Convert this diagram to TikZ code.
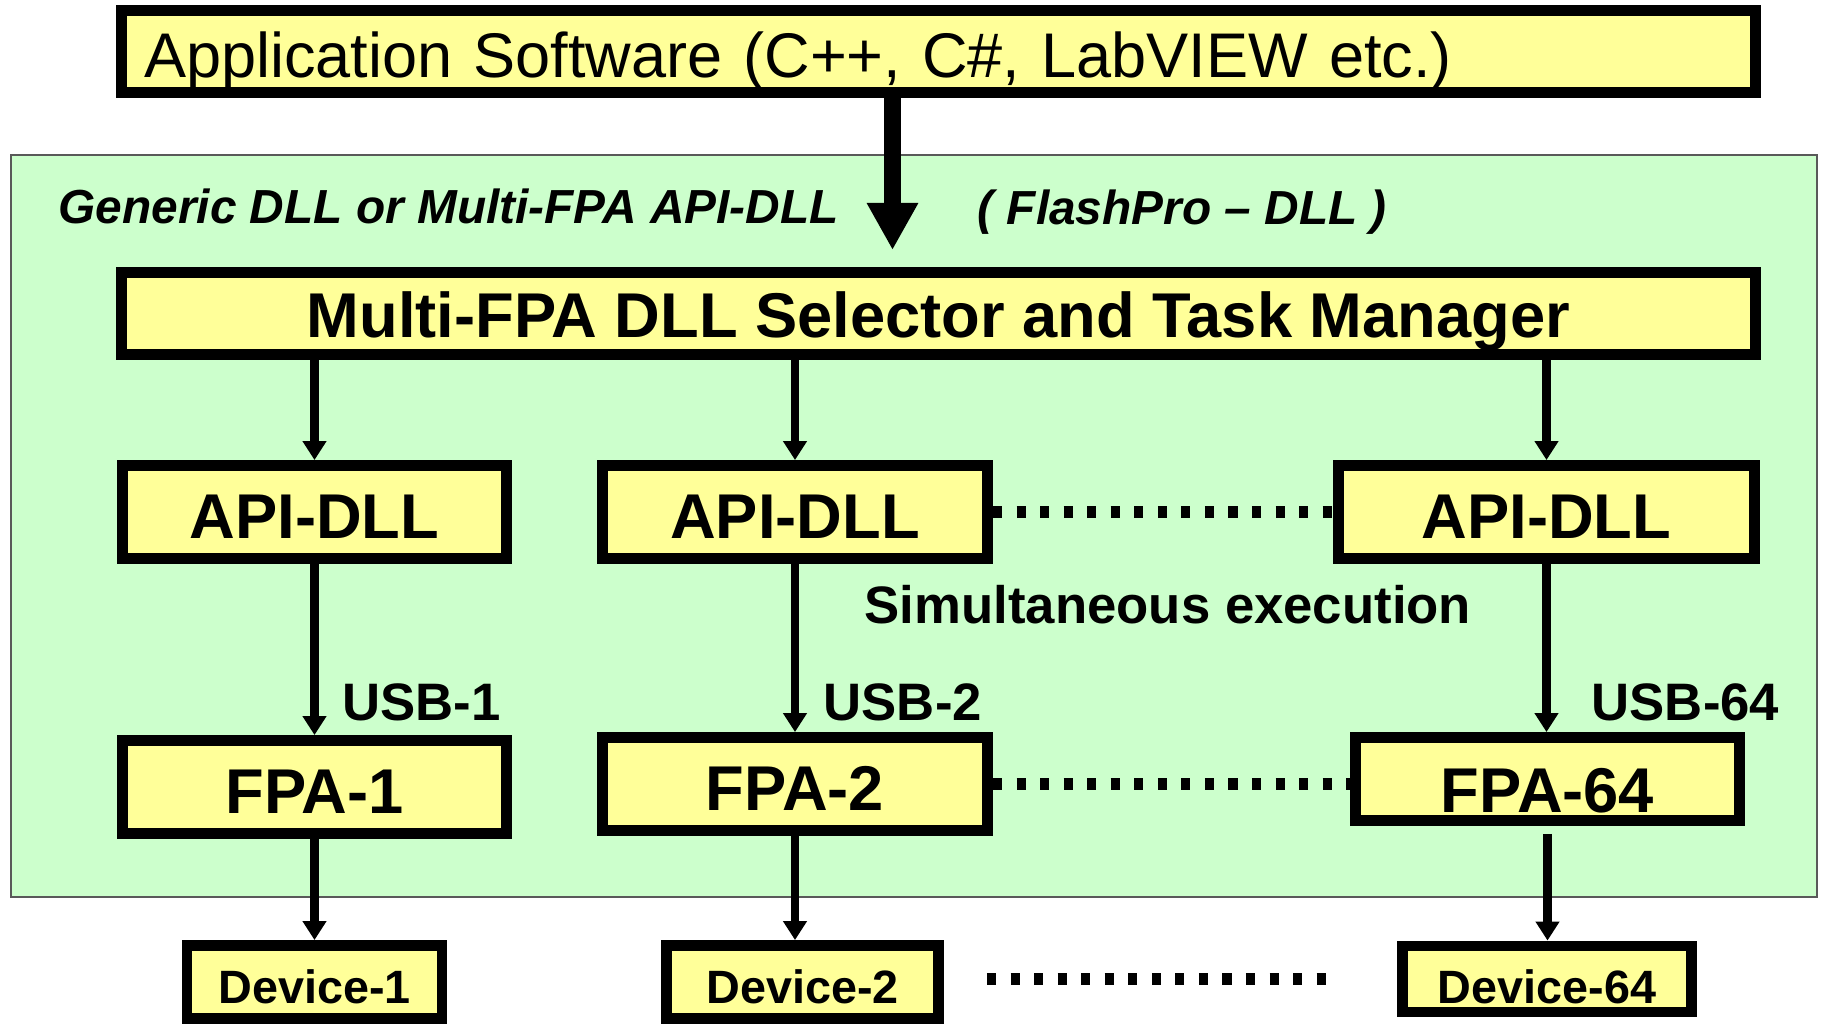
\documentclass[tikz,border=0pt]{standalone}
\usepackage{fontspec}
\setmainfont{Liberation Sans}
\usetikzlibrary{arrows.meta, positioning}

\definecolor{boxyellow}{RGB}{255,255,153}
\definecolor{dllgreen}{RGB}{204,255,204}

\begin{document}
\begin{tikzpicture}[node distance=2cm]

        % Define styles for each type of node
        \tikzstyle{panel} = [rectangle, minimum width=18.06cm, minimum height=7.42cm, draw=black!65, line width=0.6pt, fill=dllgreen]
        \tikzstyle{layer} = [rectangle, minimum width=16.34cm, minimum height=0.82cm, inner sep=0pt, draw=black, line width=3.1pt, fill=boxyellow, font=\fontsize{18}{20}\selectfont\bfseries, text height=0.48cm, text depth=0cm]
        \tikzstyle{unit} = [rectangle, minimum width=3.84cm, minimum height=0.93cm, inner sep=0pt, draw=black, line width=3.1pt, fill=boxyellow, font=\fontsize{18}{20}\selectfont\bfseries, text height=0.52cm, text depth=0cm]
        \tikzstyle{device} = [rectangle, minimum height=0.73cm, inner sep=0pt, draw=black, line width=3.1pt, fill=boxyellow, font=\fontsize{13.3}{15}\selectfont\bfseries, text height=0.42cm, text depth=0cm]
        \tikzstyle{tag} = [anchor=base west, inner sep=0pt, font=\fontsize{15}{17}\selectfont\bfseries]
        \tikzstyle{caption} = [anchor=base west, inner sep=0pt, font=\fontsize{13.6}{15}\selectfont\bfseries\itshape]

        % Define arrow styles
        \tikzstyle{arrow} = [line width=2.3pt, -{Triangle[length=5.4pt, width=6.5pt]}]
        \tikzstyle{bigarrow} = [line width=4.6pt, -{Triangle[length=13.4pt, width=13.7pt]}]
        \tikzstyle{dots} = [line width=3.4pt, dash pattern=on 2.6pt off 4.1pt]

        \useasboundingbox (0,0) rectangle (18.22,-10.24);

        % DLL area in the background
        \node (dllarea) [panel] at (9.14,-5.26) {};

        % Nodes
        \node (app) [layer, font=\fontsize{17.95}{20}\selectfont, text width=15.89cm, align=left, inner xsep=0.225cm, text height=0.51cm] at (9.385,-0.515) {Application Software (C++, C\#, LabVIEW etc.)};
        \node (manager) [layer, below of=app, yshift=-0.62cm] {Multi-FPA DLL Selector and Task Manager};

        % One API-DLL per FPA
        \node (api1) [unit] at (3.145,-5.12) {API-DLL};
        \node (api2) [unit, minimum width=3.85cm] at (7.95,-5.12) {API-DLL};
        \node (api3) [unit, minimum width=4.16cm] at (15.465,-5.12) {API-DLL};

        \node (fpa1) [unit, below of=api1, yshift=-0.75cm] {FPA-1};
        \node (fpa2) [unit, minimum width=3.85cm, below of=api2, yshift=-0.72cm] {FPA-2};
        \node (fpa64) [unit, minimum height=0.83cm, text height=0.66cm, below of=api3, xshift=0.01cm, yshift=-0.67cm] {FPA-64};

        \node (dev1) [device, minimum width=2.55cm, below of=fpa1, yshift=0.05cm] {Device-1};
        \node (dev2) [device, minimum width=2.72cm, below of=fpa2, xshift=0.075cm, yshift=0.02cm] {Device-2};
        \node (dev64) [device, minimum width=2.89cm, minimum height=0.66cm, text height=0.49cm, below of=fpa64, xshift=-0.005cm] {Device-64};

        % Texts
        \node (generic) [caption] at (0.58,-2.23) {Generic DLL or Multi-FPA API-DLL};
        \node (flashpro) [caption] at (9.77,-2.24) {( FlashPro – DLL )};
        \node (simul) [tag] at (8.64,-6.23) {Simultaneous execution};
        \node (usb1) [tag] at (3.42,-7.20) {USB-1};
        \node (usb2) [tag] at (8.23,-7.20) {USB-2};
        \node (usb64) [tag] at (15.91,-7.20) {USB-64};

        % Arrows
        \draw [bigarrow, shorten >=0.17cm] ([xshift=-0.46cm]app.south) -- ([xshift=-0.46cm]manager.north);

        \draw [arrow] (manager.south -| api1.north) -- (api1.north);
        \draw [arrow] (manager.south -| api2.north) -- (api2.north);
        \draw [arrow] (manager.south -| api3.north) -- (api3.north);

        \draw [arrow] (api1.south) -- (fpa1.north);
        \draw [arrow] (api2.south) -- (api2.south |- fpa2.north);
        \draw [arrow] (api3.south) -- (api3.south |- fpa64.north);

        \draw [arrow] (fpa1.south) -- (fpa1.south |- dev1.north);
        \draw [arrow] (fpa2.south) -- (fpa2.south |- dev2.north);
        \draw [arrow, shorten <=0.08cm] (fpa64.south) -- (fpa64.south |- dev64.north);

        % Simultaneous execution
        \draw [dots] (api2.east) -- (api3.west);
        \draw [dots] (fpa2.east) -- (fpa2.east -| fpa64.west);
        \draw [dots, shorten <=0.43cm, shorten >=0.62cm] (dev2.east |- dev64.west) -- (dev64.west);

\end{tikzpicture}
\end{document}
